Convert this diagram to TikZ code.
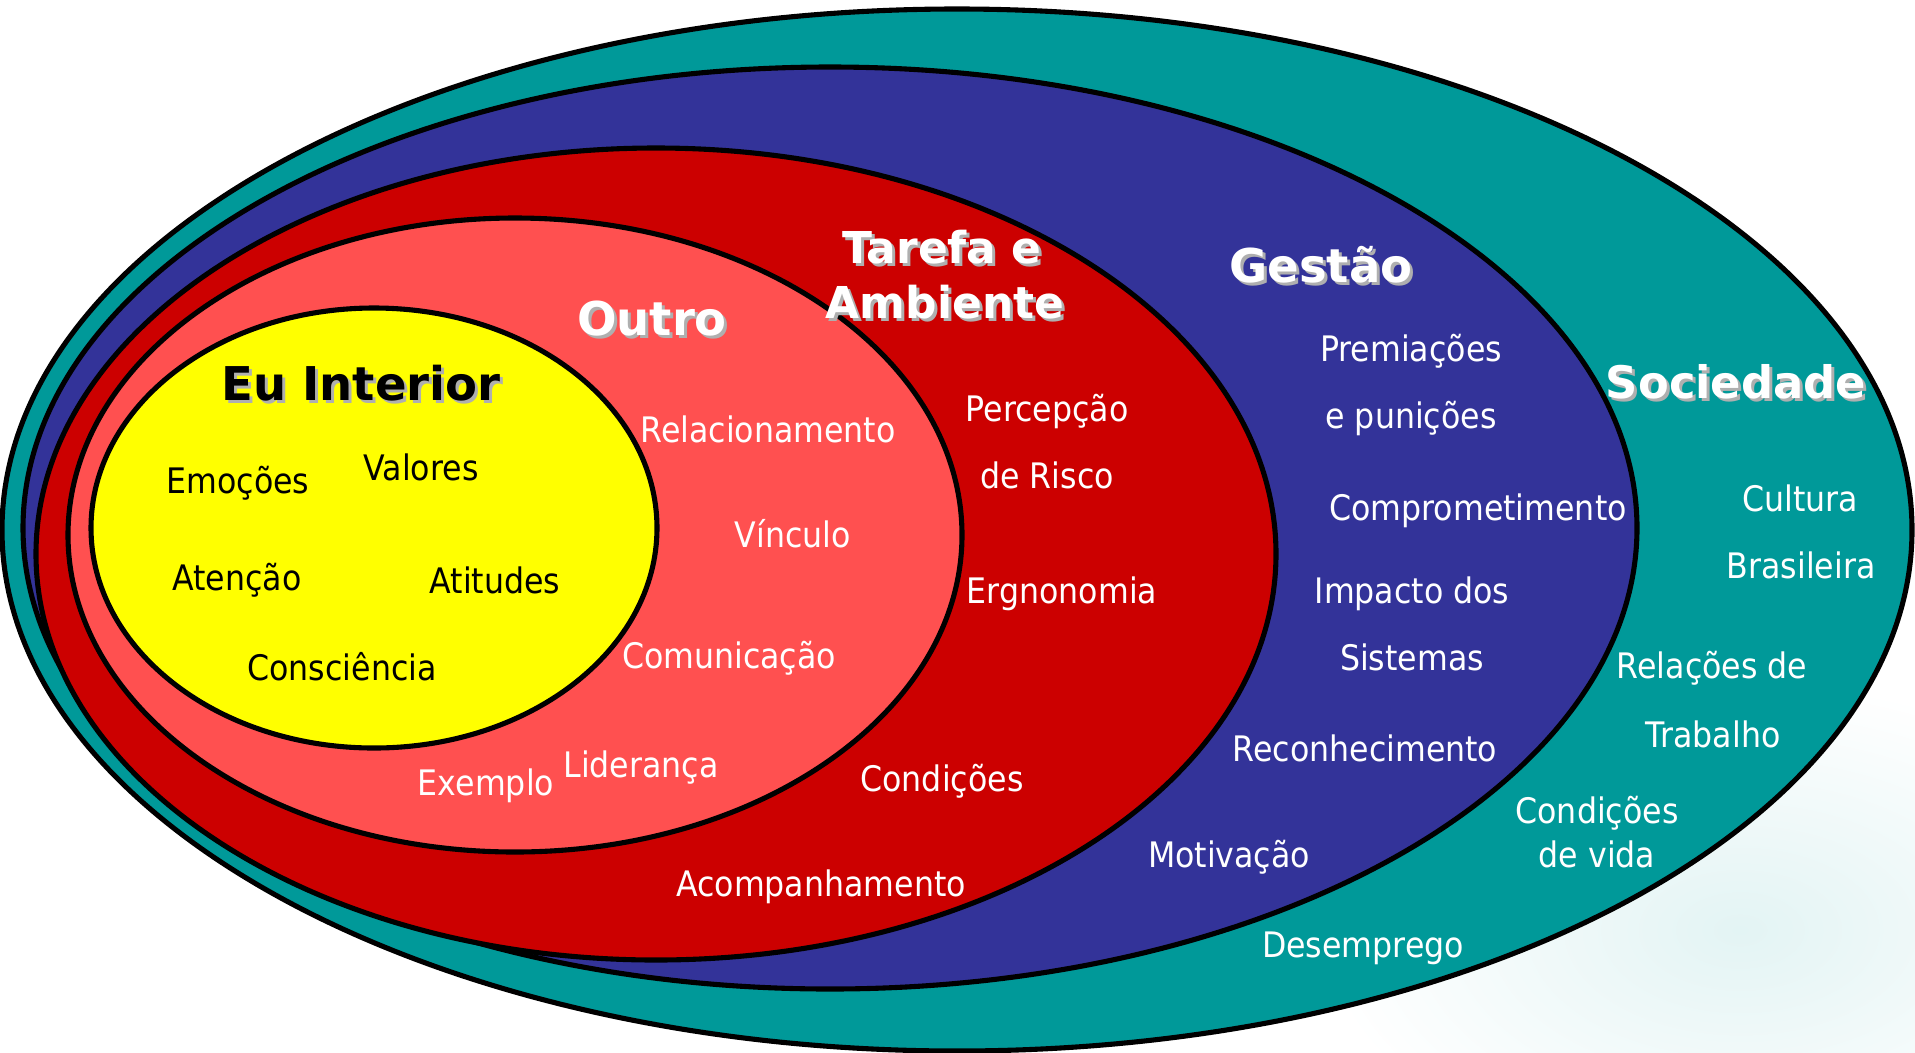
\documentclass[tikz,border=0pt]{standalone}
\usepackage{fontspec}
\setmainfont{DejaVu Sans}[FakeStretch=0.9]
\newfontfamily\headfont{DejaVu Sans}
\definecolor{socteal}{RGB}{0,153,153}
\definecolor{gestblue}{RGB}{51,51,153}
\definecolor{tarred}{RGB}{204,0,0}
\definecolor{outsalmon}{RGB}{255,80,80}
\definecolor{euyellow}{RGB}{255,255,0}
\definecolor{shadowgray}{RGB}{175,175,175}
\begin{document}
\begin{tikzpicture}[x=0.02cm,y=0.02cm,
  ring/.style={draw=black,line width=2.9pt},
  lbl/.style={font=\fontsize{20}{24}\selectfont,text=white,anchor=base,inner sep=0pt},
  ttl/.style={font=\headfont\bfseries\fontsize{26.5}{30}\selectfont,anchor=base,inner sep=0pt},
  shd/.style={ttl,text=shadowgray}]
\useasboundingbox (0,0) rectangle (1915,-1052);
\shade[inner color=socteal!11,outer color=white] (1740,-930) ellipse [x radius=420, y radius=250];
% rings, outer to inner
\filldraw[ring,fill=socteal] (957,-530) ellipse [x radius=955, y radius=521];
\filldraw[ring,fill=gestblue] (830,-528) ellipse [x radius=807, y radius=461];
\filldraw[ring,fill=tarred] (656,-554) ellipse [x radius=620, y radius=406];
\filldraw[ring,fill=outsalmon] (515,-535) ellipse [x radius=447, y radius=317];
\filldraw[ring,fill=euyellow] (374,-528) ellipse [x radius=283, y radius=220];
% titles
\node[shd] (eu-s) at (364,-403) {Eu Interior};
\node[ttl,text=black] (eu) at (361,-400) {Eu Interior};
\node[shd] (outro-s) at (655,-338) {Outro};
\node[ttl,text=white] (outro) at (652,-335) {Outro};
\node[shd,font=\headfont\bfseries\fontsize{25}{30}\selectfont] (tarefa-s) at (945,-266) {Tarefa e};
\node[ttl,text=white,font=\headfont\bfseries\fontsize{25}{30}\selectfont] (tarefa) at (942,-263) {Tarefa e};
\node[shd,font=\headfont\bfseries\fontsize{25}{30}\selectfont] (ambiente-s) at (948,-321) {Ambiente};
\node[ttl,text=white,font=\headfont\bfseries\fontsize{25}{30}\selectfont] (ambiente) at (945,-318) {Ambiente};
\node[shd] (gestao-s) at (1324,-285) {Gestão};
\node[ttl,text=white] (gestao) at (1321,-282) {Gestão};
\node[shd,font=\headfont\bfseries\fontsize{25.5}{30}\selectfont] (sociedade-s) at (1739,-401) {Sociedade};
\node[ttl,text=white,font=\headfont\bfseries\fontsize{25.5}{30}\selectfont] (sociedade) at (1736,-398) {Sociedade};
% Eu Interior
\node[lbl,text=black] (emocoes) at (238,-493) {Emoções};
\node[lbl,text=black] (valores) at (421,-480) {Valores};
\node[lbl,text=black] (atencao) at (237,-590) {Atenção};
\node[lbl,text=black] (atitudes) at (495,-593) {Atitudes};
\node[lbl,text=black] (consciencia) at (342,-680) {Consciência};
% Outro
\node[lbl] (relac) at (768,-442) {Relacionamento};
\node[lbl] (vinculo) at (793,-547) {Vínculo};
\node[lbl] (comunic) at (729,-668) {Comunicação};
\node[lbl] (lideranca) at (641,-777) {Liderança};
\node[lbl] (exemplo) at (486,-795) {Exemplo};
% Tarefa e Ambiente
\node[lbl] (percepcao) at (1047,-421) {Percepção};
\node[lbl] (risco) at (1047,-488) {de Risco};
\node[lbl] (ergo) at (1062,-603) {Ergnonomia};
\node[lbl] (condicoes) at (942,-791) {Condições};
\node[lbl] (acomp) at (821,-896) {Acompanhamento};
% Gestao
\node[lbl] (premiacoes) at (1411,-361) {Premiações};
\node[lbl] (punicoes) at (1411,-428) {e punições};
\node[lbl] (compromet) at (1478,-520) {Comprometimento};
\node[lbl] (impacto) at (1412,-603) {Impacto dos};
\node[lbl] (sistemas) at (1412,-670) {Sistemas};
\node[lbl] (reconhec) at (1365,-761) {Reconhecimento};
\node[lbl] (motivacao) at (1229,-867) {Motivação};
% Sociedade
\node[lbl] (desemprego) at (1363,-957) {Desemprego};
\node[lbl] (cultura) at (1800,-511) {Cultura};
\node[lbl] (brasileira) at (1801,-578) {Brasileira};
\node[lbl] (relacoes) at (1712,-678) {Relações de};
\node[lbl] (trabalho) at (1713,-747) {Trabalho};
\node[lbl] (condvida) at (1597,-823) {Condições};
\node[lbl] (devida) at (1597,-867) {de vida};
\end{tikzpicture}
\end{document}
